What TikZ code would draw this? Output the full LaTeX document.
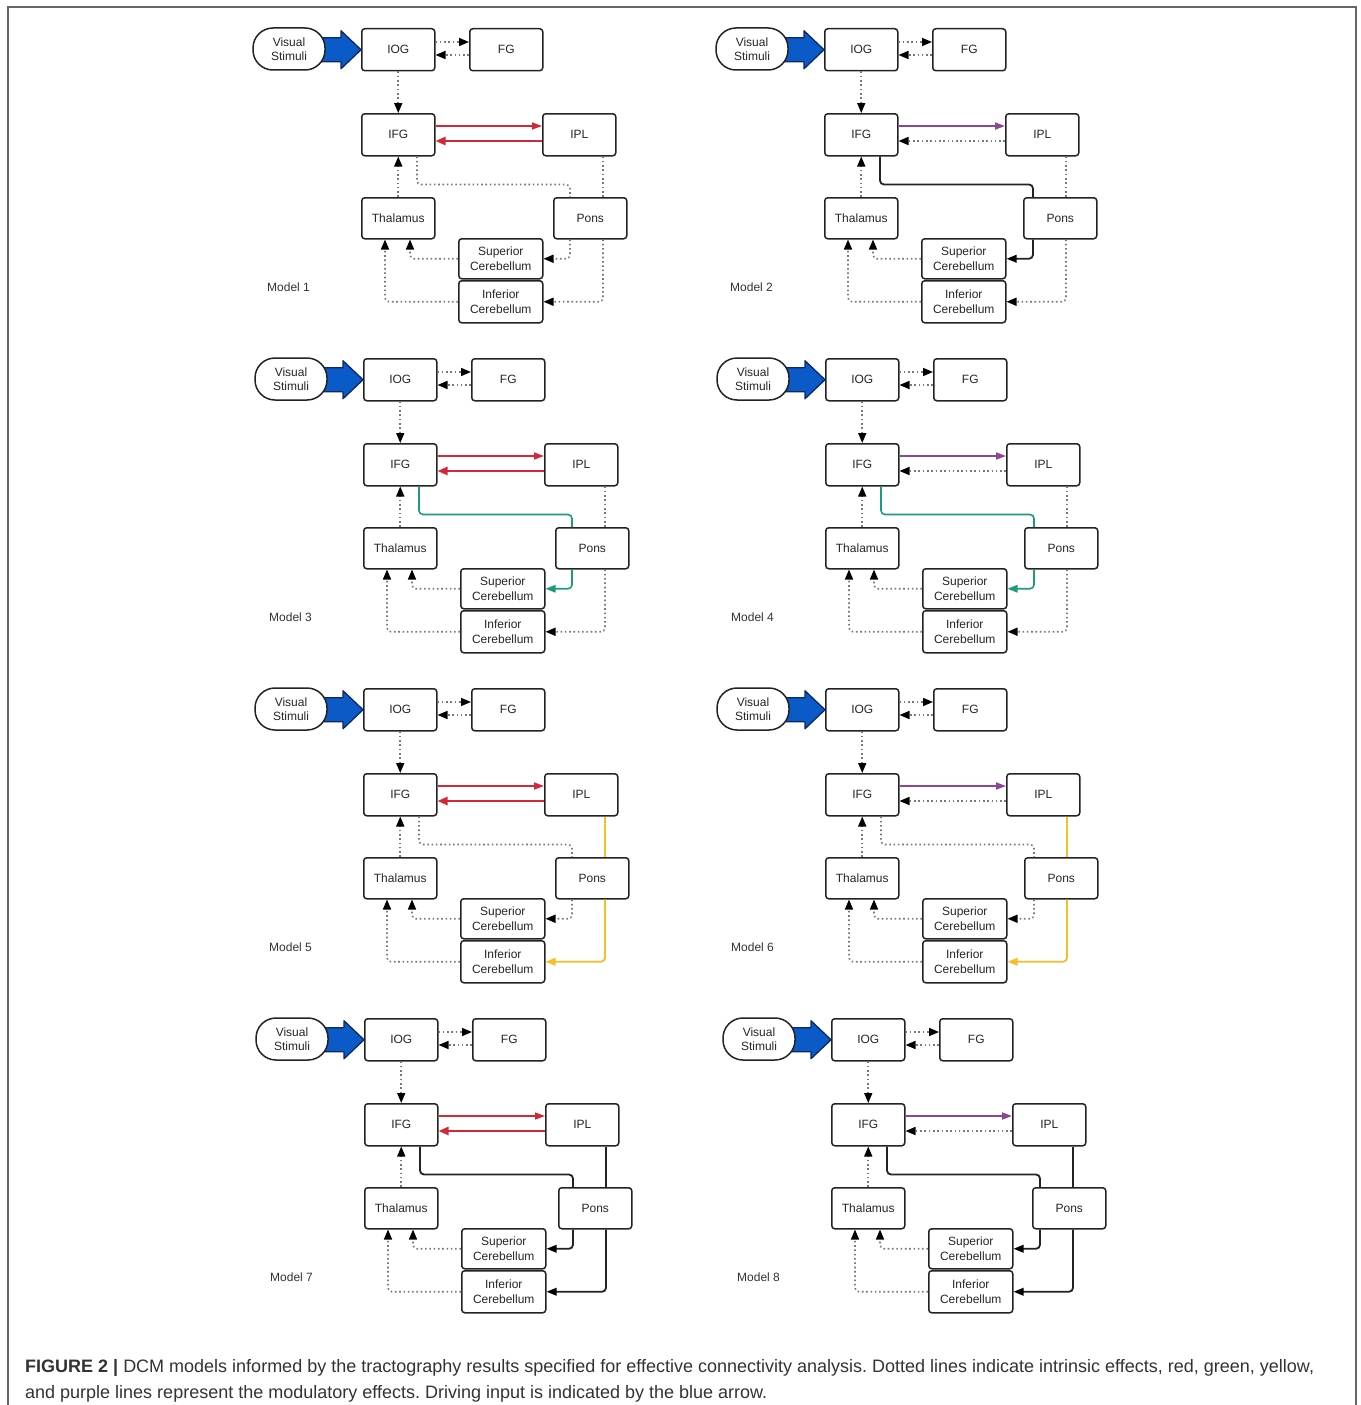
\documentclass[tikz,border=0pt]{standalone}
\usepackage{fontspec}
\setmainfont{Liberation Sans}
\usetikzlibrary{arrows.meta,calc}
\definecolor{myred}{RGB}{210,40,55}
\definecolor{mypurple}{RGB}{140,70,150}
\definecolor{mygreen}{RGB}{30,155,125}
\definecolor{myyellow}{RGB}{245,190,40}
\definecolor{myblue}{RGB}{10,90,200}
\definecolor{mynavy}{RGB}{15,40,95}
\definecolor{dotgray}{RGB}{120,120,120}
\definecolor{boxline}{RGB}{35,35,35}
\tikzset{
  box/.style={draw=boxline, line width=1.5pt, rounded corners=3pt, fill=white,
    minimum width=73pt, minimum height=42pt, inner sep=0pt,
    font=\fontsize{12}{15}\selectfont, text=black!85, align=center, anchor=north west},
  cbox/.style={box, minimum width=84pt, minimum height=40pt},
  pill/.style={draw=boxline, line width=1.5pt, rounded corners=20pt, fill=white,
    minimum width=72pt, minimum height=42pt, inner sep=0pt,
    font=\fontsize{12}{14}\selectfont, text=black!85, align=center},
  modellabel/.style={font=\fontsize{12}{14}\selectfont, text=black!80, anchor=west, inner sep=0pt},
  bluearrow/.style={draw=mynavy, fill=myblue, line width=1.3pt, line join=round},
  dotline/.style={draw=dotgray, line width=1.6pt, dash pattern=on 1.6pt off 2.7pt, rounded corners=4pt,
    -{Triangle[length=10pt,width=8pt,color=black]}},
  redline/.style={draw=myred, line width=1.5pt, -{Triangle[length=10pt,width=7pt,color=myred]}},
  redback/.style={draw=myred, line width=2.3pt, -{Triangle[length=10pt,width=8pt,color=myred]}},
  purpleline/.style={draw=mypurple, line width=1.8pt, -{Triangle[length=10pt,width=7pt,color=mypurple]}},
  greenline/.style={draw=mygreen, line width=1.6pt, rounded corners=4pt, -{Triangle[length=10pt,width=7.5pt,color=mygreen]}},
  yellowline/.style={draw=myyellow, line width=1.8pt, rounded corners=4pt, -{Triangle[length=10pt,width=7.5pt,color=myyellow]}},
  blackline/.style={draw=boxline, line width=1.8pt, rounded corners=4pt, -{Triangle[length=10pt,width=7.5pt,color=black]}},
  captxt/.style={anchor=base west, inner sep=0pt, font=\fontsize{18}{21}\selectfont\frenchspacing, text=black!80}
}
% #1 x0, #2 y0, #3 pons offset, #4 IFG->IPL style, #5 IPL->IFG style,
% #6 IFG-Pons-SupCb style, #7 IPL-Pons-InfCb style, #8 model number
\newcommand\dcmmodel[8]{%
  \node[box] (m#8iog) at (#1,#2) {IOG};
  \draw[bluearrow] ($(m#8iog.west)+(-46,-12)$) -- ++(26,0) -- ++(0,-7) -- (m#8iog.west)
     -- ++(-20,19) -- ++(0,-7) -- ++(-26,0) -- cycle;
  \node[pill] (m#8vs) at ({#1-72},{#2+21}) {Visual\\Stimuli};
  \node[box] (m#8fg) at ({#1+108},#2) {FG};
  \node[box] (m#8ifg) at (#1,{#2+85}) {IFG};
  \node[box] (m#8ipl) at ({#1+181},{#2+85}) {IPL};
  \node[box, minimum height=41pt] (m#8thal) at (#1,{#2+169}) {Thalamus};
  \node[box, minimum height=41pt] (m#8pons) at ({#1+#3},{#2+169}) {Pons};
  \node[cbox] (m#8sc) at ({#1+97},{#2+210}) {Superior\\Cerebellum};
  \node[cbox, minimum height=42pt] (m#8ic) at ({#1+97},{#2+252}) {Inferior\\Cerebellum};
  \node[modellabel] (m#8lab) at ({#1-94},{#2+259}) {Model #8};
  \draw[dotline] ($(m#8iog.north east)+(0,14)$) -- ($(m#8fg.north west)+(0,14)$);
  \draw[dotline] ($(m#8fg.north west)+(0,27)$) -- ($(m#8iog.north east)+(0,27)$);
  \draw[dotline] (m#8iog.south) -- (m#8ifg.north);
  \draw[dotline] (m#8thal.north) -- (m#8ifg.south);
  \draw[#4] ($(m#8ifg.north east)+(0,13)$) -- ($(m#8ipl.north west)+(0,13)$);
  \draw[#5] ($(m#8ipl.north west)+(0,28)$) -- ($(m#8ifg.north east)+(0,28)$);
  \coordinate (m#8ra) at ($(m#8ifg.south west)+(209,0)$);
  \coordinate (m#8rb) at ($(m#8ifg.south west)+(242,0)$);
  \draw[#6,-] ($(m#8ifg.south west)+(56,0)$) -- ++(0,28) -| (m#8ra |- m#8pons.north);
  \draw[#6] (m#8ra |- m#8pons.south) |- (m#8sc.east);
  \draw[#7,-] (m#8rb |- m#8ipl.south) -- (m#8rb |- m#8pons.north);
  \draw[#7] (m#8rb |- m#8pons.south) |- (m#8ic.east);
  \draw[dotline] (m#8sc.west) -| ($(m#8thal.south west)+(49,0)$);
  \draw[dotline] (m#8ic.west) -| ($(m#8thal.south west)+(24,0)$);
}
\begin{document}
\begin{tikzpicture}[x=1pt,y=-1pt]
  \useasboundingbox (0,0) rectangle (1360,1405);
  \fill[white] (0,0) rectangle (1360,1405);
  \draw[draw=black!60, line width=1.5pt] (8,1405) -- (8,7) -- (1356,7) -- (1356,1405);
  \dcmmodel{361}{28}{192}{redline}{redback}{dotline}{dotline}{1}
  \dcmmodel{824}{28}{199}{purpleline}{dotline}{blackline}{dotline}{2}
  \dcmmodel{363}{358}{192}{redline}{redback}{greenline}{dotline}{3}
  \dcmmodel{825}{358}{199}{purpleline}{dotline}{greenline}{dotline}{4}
  \dcmmodel{363}{688}{192}{redline}{redback}{dotline}{yellowline}{5}
  \dcmmodel{825}{688}{199}{purpleline}{dotline}{dotline}{yellowline}{6}
  \dcmmodel{364}{1018}{194}{redline}{redback}{blackline}{blackline}{7}
  \dcmmodel{831}{1018}{201}{purpleline}{dotline}{blackline}{blackline}{8}
  \node[captxt] (cap1) at (25,1372) {\textbf{FIGURE 2 |} DCM models informed by the tractography results specified for effective connectivity analysis. Dotted lines indicate intrinsic effects, red, green, yellow,};
  \node[captxt] (cap2) at (25,1398) {and purple lines represent the modulatory effects. Driving input is indicated by the blue arrow.};
\end{tikzpicture}
\end{document}
